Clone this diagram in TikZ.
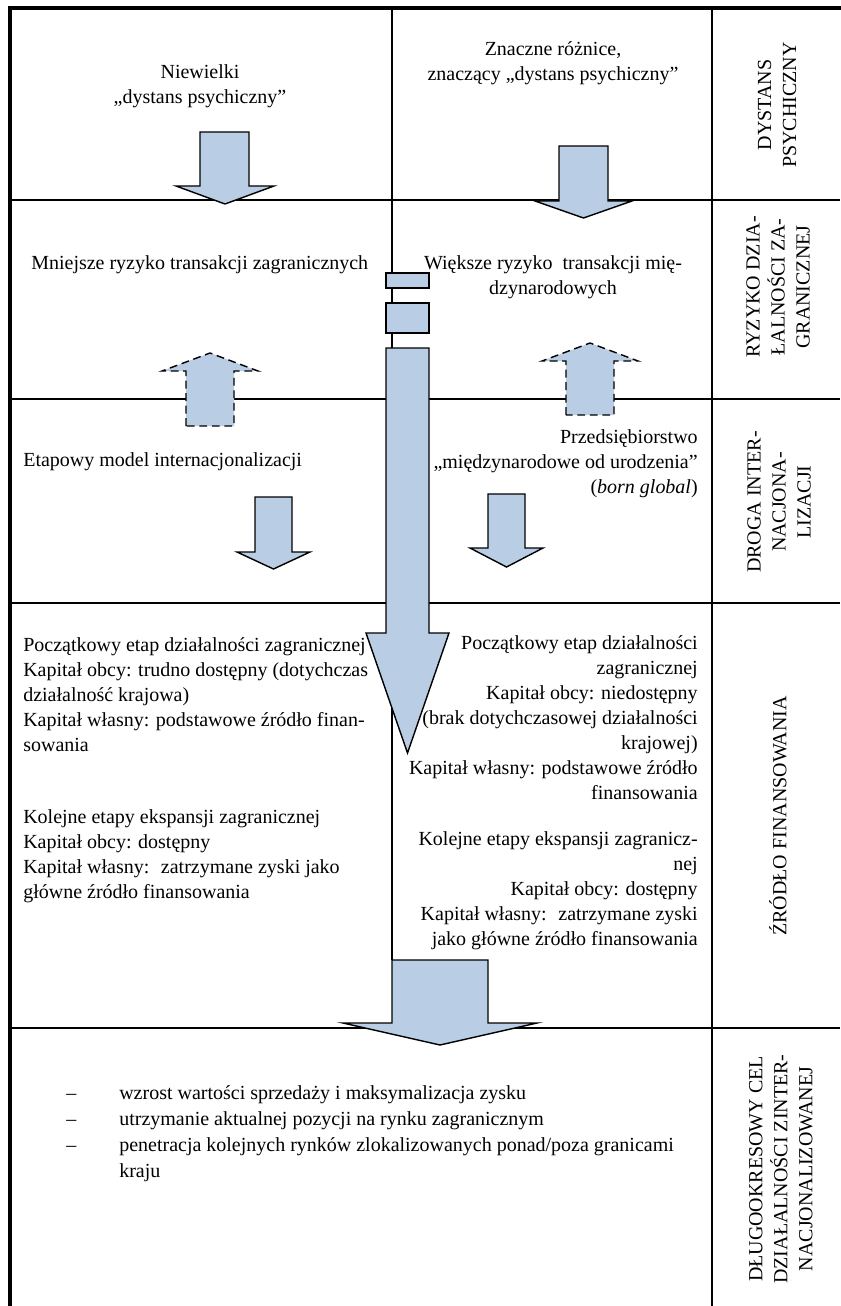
\documentclass[tikz,border=0pt]{standalone}
\usepackage{fontspec}
\setmainfont{Liberation Serif}
\usetikzlibrary{positioning}
\definecolor{arrowblue}{HTML}{B9CDE5}

\begin{document}
\begin{tikzpicture}[x=0.0225cm, y=-0.0225cm,
  frame/.style={line width=3pt, line cap=rect},
  grid/.style={line width=1.2pt},
  blk/.style={draw, fill=arrowblue, line width=0.9pt},
  blkdash/.style={blk, dash pattern=on 5pt off 3pt},
  txt/.style={inner sep=0pt, font=\fontsize{12.8}{16}\selectfont},
  lab/.style={txt, rotate=90, align=center}]

\useasboundingbox (0,0) rectangle (840,1306);

% table
\draw[grid] (10,200) -- (840,200);
\draw[grid] (10,399) -- (840,399);
\draw[grid] (10,603) -- (840,603);
\draw[grid] (10,1028) -- (840,1028);
\draw[grid] (392,8) -- (392,960);
\draw[grid] (712,8) -- (712,1306);
\draw[frame] (10,1306) -- (10,8) -- (840,8);

% block arrows
\draw[blk] (200,132) -- (249,132) -- (249,186) -- (274,186) -- (225,204) -- (176,186) -- (200,186) -- cycle;
\draw[blk] (559,146) -- (608,146) -- (608,201) -- (632,201) -- (583.5,218) -- (535,201) -- (559,201) -- cycle;
\draw[blkdash] (186,426) -- (186,371) -- (162,371) -- (210,353) -- (258,371) -- (234,371) -- (234,426) -- cycle;
\draw[blkdash] (566,415) -- (566,361) -- (542,361) -- (590,343) -- (638,361) -- (614,361) -- (614,415) -- cycle;
\draw[blk] (255,497) -- (292,497) -- (292,552) -- (310,552) -- (273.5,569) -- (237,552) -- (255,552) -- cycle;
\draw[blk] (488,494) -- (525,494) -- (525,548) -- (543,548) -- (506.5,567) -- (470,548) -- (488,548) -- cycle;

% long arrow through the middle
\draw[blk] (386,273) rectangle (429,288);
\draw[blk] (386,303) rectangle (429,333);
\draw[blk] (386,348) -- (429,348) -- (429,633) -- (449,633) -- (407.5,753) -- (366,633) -- (386,633) -- cycle;
\draw[blk] (392,960) -- (488,960) -- (488,1023) -- (537,1023) -- (440,1045) -- (343,1023) -- (392,1023) -- cycle;

% row 1
\node[txt, align=center] (niew) at (200,86) {Niewielki\\„dystans psychiczny”};
\node[txt, align=center] (znacz) at (553,63) {Znaczne różnice,\\znaczący „dystans psychiczny”};

% row 2
\node[txt, anchor=west] (mniej) at (31,265) {Mniejsze ryzyko transakcji zagranicznych};
\node[txt, align=center] (wieksz) at (553,277) {Większe ryzyko~ transakcji mię-\\dzynarodowych};

% row 3
\node[txt, anchor=west] (etap) at (23,462) {Etapowy model internacjonalizacji};
\node[txt, align=right, anchor=north east] (born) at (698,429) {Przedsiębiorstwo\\„międzynarodowe od urodzenia”\\(\textit{born global})};

% row 4
\node[txt, align=left, anchor=north west] (finl1) at (23,637) {Początkowy etap działalności zagranicznej\\Kapitał obcy: trudno dostępny (dotychczas\\działalność krajowa)\\Kapitał własny: podstawowe źródło finan-\\sowania};
\node[txt, align=left, anchor=north west] (finl2) at (23,809) {Kolejne etapy ekspansji zagranicznej\\Kapitał obcy: dostępny\\Kapitał własny:~ zatrzymane zyski jako\\główne źródło finansowania};
\node[txt, align=right, anchor=north east] (finr1) at (698,635) {Początkowy etap działalności\\zagranicznej\\Kapitał obcy: niedostępny\\(brak dotychczasowej działalności\\krajowej)\\Kapitał własny: podstawowe źródło\\finansowania};
\node[txt, align=right, anchor=north east] (finr2) at (698,831) {Kolejne etapy ekspansji zagranicz-\\nej\\Kapitał obcy: dostępny\\Kapitał własny:~ zatrzymane zyski\\jako główne źródło finansowania};

% row 5
\node[txt, align=left, anchor=north west, font=\fontsize{12.8}{16.6}\selectfont] (dash) at (66,1081) {\strut–\\–\\–};
\node[txt, align=left, anchor=north west, font=\fontsize{12.8}{16.6}\selectfont] (cel) at (119,1081) {\strut wzrost wartości sprzedaży i maksymalizacja zysku\\utrzymanie aktualnej pozycji na rynku zagranicznym\\penetracja kolejnych rynków zlokalizowanych ponad/poza granicami\\kraju};

% right column
\node[lab] (dyst) at (777,105) {DYSTANS\\PSYCHICZNY};
\node[lab] (ryz) at (778,287) {RYZYKO DZIA-\\ŁALNOŚCI ZA-\\GRANICZNEJ};
\node[lab] (droga) at (779,502) {DROGA INTER-\\NACJONA-\\LIZACJI};
\node[lab] (zrod) at (778,816) {ŹRÓDŁO FINANSOWANIA};
\node[lab] (dlugo) at (781,1169) {DŁUGOOKRESOWY CEL\\DZIAŁALNOŚCI ZINTER-\\NACJONALIZOWANEJ};
\end{tikzpicture}
\end{document}
